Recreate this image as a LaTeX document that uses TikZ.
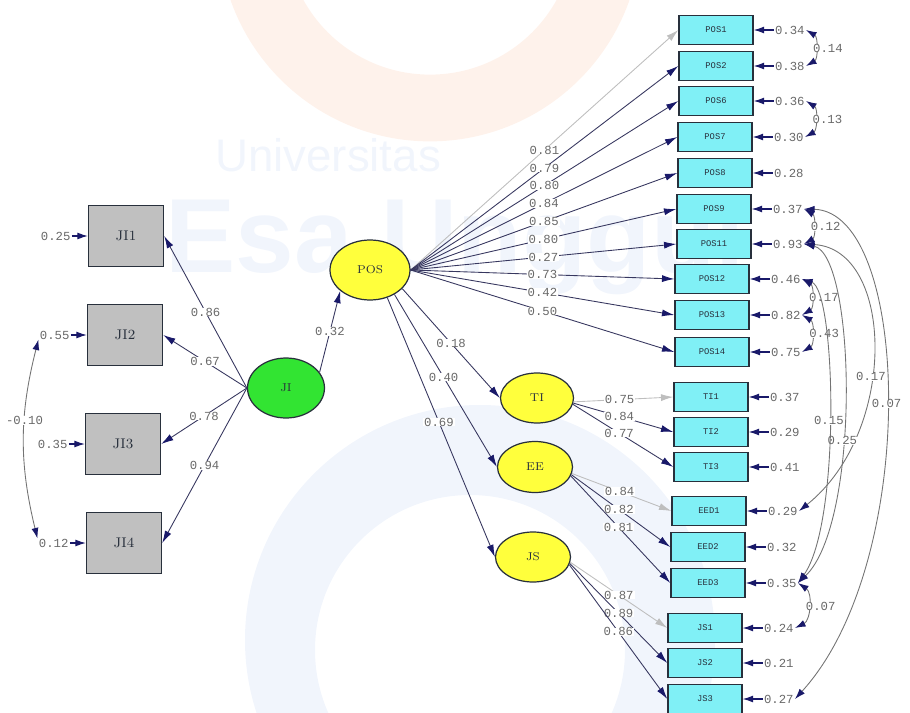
\documentclass[tikz,border=0pt]{standalone}
\usepackage{fontspec}
\setmonofont{Liberation Mono}
\setsansfont{Liberation Sans}
\usetikzlibrary{positioning,shapes.geometric,arrows.meta}

\definecolor{indfill}{RGB}{128,240,246}
\definecolor{jifill}{RGB}{192,192,192}
\definecolor{latyellow}{RGB}{255,255,60}
\definecolor{latgreen}{RGB}{50,228,50}
\definecolor{boxline}{RGB}{40,48,60}
\definecolor{navy}{RGB}{25,25,105}
\definecolor{loadline}{RGB}{55,55,95}
\definecolor{coefgray}{RGB}{105,105,105}
\definecolor{fixgray}{RGB}{190,190,190}
\definecolor{covgray}{RGB}{115,115,115}
\definecolor{markblue}{RGB}{241,245,252}
\definecolor{markorange}{RGB}{254,242,235}

\newcommand{\coeffont}{\fontsize{7}{8}\selectfont\ttfamily}

\tikzset{
  ind/.style={draw=boxline, line width=0.8pt, fill=indfill, minimum width=1.48cm,
    minimum height=0.58cm, inner sep=0pt, text=boxline, font=\fontsize{5}{6}\selectfont\ttfamily},
  jibox/.style={draw=boxline, line width=0.8pt, fill=jifill, minimum width=1.5cm,
    minimum height=1.22cm, inner sep=0pt, text=boxline, font=\fontsize{8}{9}\selectfont},
  lat/.style={ellipse, draw=boxline, line width=0.7pt, inner sep=0pt, text=boxline,
    font=\fontsize{6.5}{7}\selectfont},
  coef/.style={font=\coeffont, text=coefgray, fill=white, inner xsep=0.6pt, inner ysep=0pt},
  err/.style={font=\coeffont, text=coefgray, inner xsep=0.6pt, inner ysep=0pt},
  load/.style={draw=loadline, line width=0.5pt, -{Latex[length=7pt,width=4pt,color=navy]}},
  fixload/.style={draw=fixgray, line width=0.5pt, -{Latex[length=7pt,width=4pt]}},
  errarr/.style={draw=navy, line width=0.6pt, -{Latex[length=6pt,width=4pt]}},
  covar/.style={draw=covgray, line width=0.5pt,
    {Latex[length=6pt,width=4pt,color=navy]}-{Latex[length=6pt,width=4pt,color=navy]}}
}

\begin{document}
\begin{tikzpicture}[x=0.02cm, y=-0.02cm]
\useasboundingbox (0,0) rectangle (910,713);

% faint watermark in the background
\draw[markorange, line width=38] (430,-70) circle[radius=178];
\fill[markblue, even odd rule] (480,640) circle[radius=235] (470,650) circle[radius=155];
\node[text=markblue, font=\fontsize{26}{26}\selectfont\sffamily] at (328,155) {Universitas};
\node[text=markblue, font=\fontsize{60}{60}\selectfont\sffamily\bfseries] at (455,245) {Esa Unggul};

% latent variables
\node[lat, fill=latyellow, minimum width=1.6cm, minimum height=1.2cm] (pos) at (370,270) {POS};
\node[lat, fill=latgreen, minimum width=1.54cm, minimum height=1.2cm] (ji) at (286,388) {JI};
\node[lat, fill=latyellow, minimum width=1.46cm, minimum height=1.0cm] (ti) at (537,398) {TI};
\node[lat, fill=latyellow, minimum width=1.5cm, minimum height=1.02cm] (ee) at (535,467) {EE};
\node[lat, fill=latyellow, minimum width=1.5cm, minimum height=1.0cm] (js) at (533,557) {JS};

% indicators of JI
\node[jibox] (ji1) at (126,236) {JI1};
\node[jibox] (ji2) at (125,335) {JI2};
\node[jibox] (ji3) at (123,444) {JI3};
\node[jibox] (ji4) at (124,543) {JI4};

% indicators on the right
\node[ind] (pos1) at (716,30) {POS1};
\node[ind] (pos2) at (716,66) {POS2};
\node[ind] (pos6) at (716,101) {POS6};
\node[ind] (pos7) at (715,137) {POS7};
\node[ind] (pos8) at (715,173) {POS8};
\node[ind] (pos9) at (714,209) {POS9};
\node[ind] (pos11) at (714,244) {POS11};
\node[ind] (pos12) at (712,279) {POS12};
\node[ind] (pos13) at (712,315) {POS13};
\node[ind] (pos14) at (712,352) {POS14};
\node[ind] (ti1) at (711,397) {TI1};
\node[ind] (ti2) at (711,432) {TI2};
\node[ind] (ti3) at (711,467) {TI3};
\node[ind] (eed1) at (709,511) {EED1};
\node[ind] (eed2) at (708,547) {EED2};
\node[ind] (eed3) at (708,583) {EED3};
\node[ind] (js1) at (705,628) {JS1};
\node[ind] (js2) at (705,663) {JS2};
\node[ind] (js3) at (705,699) {JS3};

% error variances
\node[err, left=0.32cm of ji1] (eji1) {0.25};
\node[err, left=0.32cm of ji2] (eji2) {0.55};
\node[err, left=0.32cm of ji3] (eji3) {0.35};
\node[err, left=0.32cm of ji4] (eji4) {0.12};
\node[err, right=0.4cm of pos1] (epos1) {0.34};
\node[err, right=0.4cm of pos2] (epos2) {0.38};
\node[err, right=0.4cm of pos6] (epos6) {0.36};
\node[err, right=0.4cm of pos7] (epos7) {0.30};
\node[err, right=0.4cm of pos8] (epos8) {0.28};
\node[err, right=0.4cm of pos9] (epos9) {0.37};
\node[err, right=0.4cm of pos11] (epos11) {0.93};
\node[err, right=0.4cm of pos12] (epos12) {0.46};
\node[err, right=0.4cm of pos13] (epos13) {0.82};
\node[err, right=0.4cm of pos14] (epos14) {0.75};
\node[err, right=0.4cm of ti1] (eti1) {0.37};
\node[err, right=0.4cm of ti2] (eti2) {0.29};
\node[err, right=0.4cm of ti3] (eti3) {0.41};
\node[err, right=0.4cm of eed1] (eeed1) {0.29};
\node[err, right=0.4cm of eed2] (eeed2) {0.32};
\node[err, right=0.4cm of eed3] (eeed3) {0.35};
\node[err, right=0.4cm of js1] (ejs1) {0.24};
\node[err, right=0.4cm of js2] (ejs2) {0.21};
\node[err, right=0.4cm of js3] (ejs3) {0.27};

\draw[errarr] (eji1) -- (ji1);
\draw[errarr] (eji2) -- (ji2);
\draw[errarr] (eji3) -- (ji3);
\draw[errarr] (eji4) -- (ji4);
\draw[errarr] (epos1) -- (pos1);
\draw[errarr] (epos2) -- (pos2);
\draw[errarr] (epos6) -- (pos6);
\draw[errarr] (epos7) -- (pos7);
\draw[errarr] (epos8) -- (pos8);
\draw[errarr] (epos9) -- (pos9);
\draw[errarr] (epos11) -- (pos11);
\draw[errarr] (epos12) -- (pos12);
\draw[errarr] (epos13) -- (pos13);
\draw[errarr] (epos14) -- (pos14);
\draw[errarr] (eti1) -- (ti1);
\draw[errarr] (eti2) -- (ti2);
\draw[errarr] (eti3) -- (ti3);
\draw[errarr] (eeed1) -- (eed1);
\draw[errarr] (eeed2) -- (eed2);
\draw[errarr] (eeed3) -- (eed3);
\draw[errarr] (ejs1) -- (js1);
\draw[errarr] (ejs2) -- (js2);
\draw[errarr] (ejs3) -- (js3);

% JI loadings and structural paths
\draw[load] (ji.west) -- node[coef, pos=0.5] {0.86} (ji1.east);
\draw[load] (ji.west) -- node[coef, pos=0.5] {0.67} (ji2.east);
\draw[load] (ji.west) -- node[coef, pos=0.5] {0.78} (ji3.east);
\draw[load] (ji.west) -- node[coef, pos=0.5] {0.94} (ji4.east);
\draw[load] (ji.25) -- node[coef, pos=0.5] {0.32} (pos.-145);
\draw[load] (pos.-30) -- node[coef, pos=0.5] {0.18} (ti.west);
\draw[load] (pos.-45) -- node[coef, pos=0.48] {0.40} (ee.west);
\draw[load] (pos.-58) -- node[coef, pos=0.48] {0.69} (js.west);

% POS loadings
\draw[fixload] (pos.east) -- node[coef, pos=0.5] {0.81} (pos1.west);
\draw[load] (pos.east) -- node[coef, pos=0.5] {0.79} (pos2.west);
\draw[load] (pos.east) -- node[coef, pos=0.5] {0.80} (pos6.west);
\draw[load] (pos.east) -- node[coef, pos=0.5] {0.84} (pos7.west);
\draw[load] (pos.east) -- node[coef, pos=0.5] {0.85} (pos8.west);
\draw[load] (pos.east) -- node[coef, pos=0.5] {0.80} (pos9.west);
\draw[load] (pos.east) -- node[coef, pos=0.5] {0.27} (pos11.west);
\draw[load] (pos.east) -- node[coef, pos=0.5] {0.73} (pos12.west);
\draw[load] (pos.east) -- node[coef, pos=0.5] {0.42} (pos13.west);
\draw[load] (pos.east) -- node[coef, pos=0.5] {0.50} (pos14.west);

% TI, EE and JS loadings
\draw[fixload] (ti.-6) -- node[coef, pos=0.46] {0.75} (ti1.west);
\draw[load] (ti.-8) -- node[coef, pos=0.46] {0.84} (ti2.west);
\draw[load] (ti.-10) -- node[coef, pos=0.46] {0.77} (ti3.west);
\draw[fixload] (ee.-10) -- node[coef, pos=0.48] {0.84} (eed1.west);
\draw[load] (ee.-12) -- node[coef, pos=0.48] {0.82} (eed2.west);
\draw[load] (ee.-14) -- node[coef, pos=0.48] {0.81} (eed3.west);
\draw[fixload] (js.-8) -- node[coef, pos=0.5] {0.87} (js1.west);
\draw[load] (js.-10) -- node[coef, pos=0.5] {0.89} (js2.west);
\draw[load] (js.-12) -- node[coef, pos=0.5] {0.86} (js3.west);

% correlated errors
\draw[covar] (eji2.south west) to[bend right=14] node[coef, pos=0.4] {-0.10} (eji4.north west);
\draw[covar] (epos1.east) to[bend left=60] node[coef, right=-2pt] {0.14} (epos2.east);
\draw[covar] (epos6.east) to[bend left=60] node[coef, right=-2pt] {0.13} (epos7.east);
\draw[covar] (epos9.east) to[bend left=60] node[coef, right=-2pt] {0.12} (epos11.east);
\draw[covar] (epos12.east) to[bend left=60] node[coef, right=-2pt] {0.17} (epos13.east);
\draw[covar] (epos13.east) to[bend left=60] node[coef, right=-2pt] {0.43} (epos14.east);
\draw[covar] (epos9.east) .. controls +(107,3) and +(125,-137) .. node[coef, pos=0.5] {0.07} (ejs3.east);
\draw[covar] (epos11.east) .. controls +(90,5) and +(100,-80) .. node[coef, pos=0.58] {0.17} (eeed1.east);
\draw[covar] (epos11.east) .. controls +(52,11) and +(63,-60) .. node[coef, pos=0.6] {0.25} (eeed3.east);
\draw[covar] (epos12.east) .. controls +(34,11) and +(43,-60) .. node[coef, pos=0.52] {0.15} (eeed3.east);
\draw[covar] (eeed3.east) to[bend left=60] node[coef, right=-2pt] {0.07} (ejs1.east);
\end{tikzpicture}
\end{document}
